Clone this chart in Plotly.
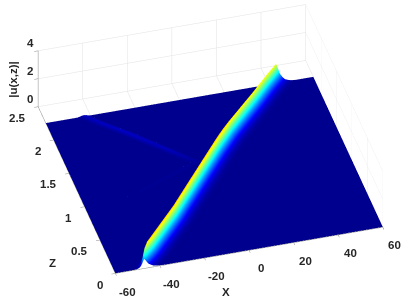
import plotly.graph_objects as go

# Height-free geometry
z_levels = [0.0, 0.02, 0.04, 0.07, 0.12, 0.5, 1.0, 1.35, 1.45, 1.55, 1.9, 2.1, 2.25]
main_center = [-47.0, -46.6, -46.1, -44.8, -42.5, -27.0, -8.5, 4.5, 8.5, 12.5, 28.0, 36.5, 43.3]
main_amp = [0.65, 1.0, 1.3, 1.5, 1.55, 1.55, 1.55, 1.55, 1.55, 1.5, 1.45, 1.42, 1.4]
weak_center = [-70, -70, -70, -70, -70, -60, -42, -5, -9.5, -13.5, -28.0, -37.0, -43.0]
weak_amp = [0, 0, 0, 0, 0, 0, 0, 0.03, 0.06, 0.09, 0.12, 0.11, 0.1]

main_offsets = [-4.5, -3.5, -2.5, -1.8, -1.2, -0.7, -0.3, 0, 0.5, 1, 1.5, 2, 3, 4, 5.5, 7, 9]
main_profile = [0, 0.02, 0.08, 0.2, 0.42, 0.7, 0.92, 1, 0.85, 0.68, 0.52, 0.4, 0.24, 0.13, 0.06, 0.02, 0]
weak_offsets = [-3, -2, -1, 0, 1, 2, 3]
weak_profile = [0, 0.3, 0.75, 1, 0.75, 0.3, 0]
floor_level = 0.02

x_edges = [-60, 60]
x_ticks = [-60, -40, -20, 0, 20, 40, 60]
y_ticks = [0, 0.5, 1, 1.5, 2, 2.5]
z_ticks = [0, 2, 4]
x_tick_text = ["-60", "-40", "-20", "0", "20", "40", "60"]
y_tick_text = ["0", "0.5", "1", "1.5", "2", "2.5"]
z_tick_text = ["0", "2", "4"]

jet = [[0, "rgb(0,0,135)"], [0.11, "rgb(0,0,255)"], [0.36, "rgb(0,255,255)"],
       [0.61, "rgb(255,255,0)"], [0.86, "rgb(255,0,0)"], [1, "rgb(128,0,0)"]]

X, Z, Y = [], [], []
for i, y in enumerate(z_levels):
    row_x, row_u = [x_edges[0]], [floor_level]
    for o, p in zip(weak_offsets, weak_profile):
        row_x.append(max(weak_center[i] + o, -59.9))
        row_u.append(floor_level + weak_amp[i] * p)
    for o, p in zip(main_offsets, main_profile):
        row_x.append(main_center[i] + o)
        row_u.append(floor_level + main_amp[i] * p)
    row_x.append(x_edges[1])
    row_u.append(floor_level)
    X.append(row_x)
    Z.append(row_u)
    Y.append([y] * len(row_x))

fig = go.Figure(go.Surface(
    x=X, y=Y, z=Z, colorscale=jet, cmin=0, cmax=2.35, showscale=False,
    lighting=dict(ambient=1, diffuse=0, specular=0, roughness=1, fresnel=0),
    hoverinfo="skip",
))

font = dict(family="Liberation Sans", size=11.5, color="#262626", weight=700)
ann = []
for v, t in zip(x_ticks, x_tick_text):
    ann.append(dict(x=v, y=0, z=0, text=t, showarrow=False, xshift=12, yshift=-18, font=font))
for v, t in zip(y_ticks, y_tick_text):
    ann.append(dict(x=-60, y=v, z=0, text=t, showarrow=False, xanchor="right", xshift=-10, yshift=-11, font=font))
for v, t in zip(z_ticks, z_tick_text):
    ann.append(dict(x=-60, y=2.5, z=v, text=t, showarrow=False, xshift=-8, yshift=8, font=font))
ann.append(dict(x=0, y=0, z=0, text="X", showarrow=False, xshift=-23, yshift=-42, font=font))
ann.append(dict(x=-60, y=0.5, z=0, text="Z", showarrow=False, xshift=-47, yshift=-23, font=font))
ann.append(dict(x=-60, y=2.5, z=2, text="|u(x,z)|", showarrow=False, xshift=-25, yshift=-1, textangle=-90, font=font))

axis = dict(showbackground=False, showgrid=True, gridcolor="#e2e2e2", gridwidth=1, zeroline=False,
            showline=True, linecolor="#8a8a8a", linewidth=1, ticks="outside", ticklen=4, tickcolor="#8a8a8a",
            showticklabels=False, title="", showspikes=False)

scale = 2.0
fig.update_layout(
    width=407, height=305, margin=dict(l=0, r=0, t=0, b=0), paper_bgcolor="white",
    showlegend=False,
    scene=dict(
        domain=dict(x=[0.034, 1], y=[0.088, 1]),
        xaxis=dict(axis, range=[-60, 60], tickvals=x_ticks),
        yaxis=dict(axis, range=[0, 2.5], tickvals=y_ticks),
        zaxis=dict(axis, range=[0, 4], tickvals=z_ticks),
        aspectmode="manual", aspectratio=dict(x=1 * scale, y=1.02 * scale, z=0.254 * scale),
        camera=dict(
            projection=dict(type="orthographic"),
            eye=dict(x=-0.43, y=-1.52, z=1.22),
            up=dict(x=0, y=0, z=1),
        ),
        annotations=ann,
    ),
)
fig.write_html("out.html", config={"displayModeBar": False}, post_script="document.body.style.margin='0';")
